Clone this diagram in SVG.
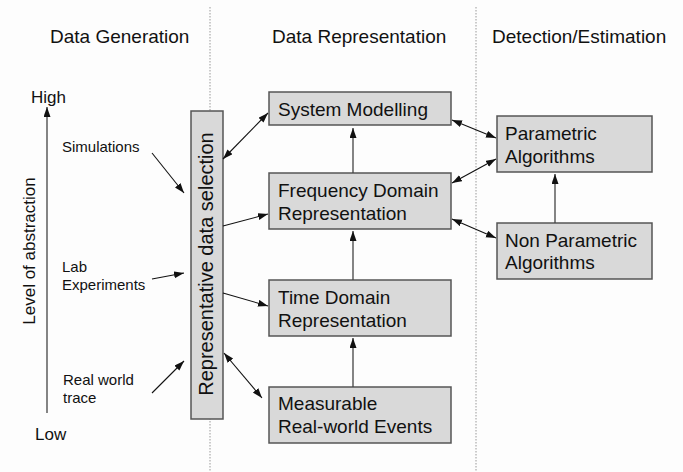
<svg xmlns="http://www.w3.org/2000/svg" width="683" height="472" viewBox="0 0 683 472">
  <style>
    text { font-family: "Liberation Sans", Arial, sans-serif; fill: #111; }
    .title { font-size: 19px; }
    .box { fill: #d9d9d9; stroke: #555; stroke-width: 1.5; }
    .label { font-size: 19px; }
    .small { font-size: 15px; }
    .axis { font-size: 17px; }
    .divider { stroke: #999; stroke-width: 1; stroke-dasharray: 1.5 1.5; }
    .conn { stroke: #111; stroke-width: 1.1; fill: none; }
    .up { stroke: #444; stroke-width: 1.3; fill: none; }
  </style>
  <defs>
    <marker id="arrow" markerUnits="userSpaceOnUse" markerWidth="11" markerHeight="8" refX="10" refY="3.5" orient="auto-start-reverse">
      <path d="M0,0 L10,3.5 L0,7 z" fill="#111"/>
    </marker>
  </defs>

  <rect width="683" height="472" fill="#fdfdfd"/>

  <!-- column dividers -->
  <line class="divider" x1="210" y1="7" x2="210" y2="472"/>
  <line class="divider" x1="476" y1="7" x2="476" y2="472"/>

  <!-- column titles -->
  <text class="title" x="50" y="43">Data Generation</text>
  <text class="title" x="272" y="43">Data Representation</text>
  <text class="title" x="492" y="43">Detection/Estimation</text>

  <!-- abstraction axis labels -->
  <g id="axis">
    <text class="axis" x="31" y="103">High</text>
    <text class="axis" x="35" y="440">Low</text>
    <text class="axis" transform="translate(35,251) rotate(-90)" text-anchor="middle">Level of abstraction</text>
  </g>

  <!-- data sources -->
  <g id="simulations"><text class="small" x="62" y="152">Simulations</text></g>
  <g id="lab"><text class="small" x="62" y="272">Lab</text><text class="small" x="62" y="290">Experiments</text></g>
  <g id="realworld"><text class="small" x="63" y="385">Real world</text><text class="small" x="63" y="403">trace</text></g>

  <!-- selection bar -->
  <g id="selection">
    <rect class="box" x="191" y="111" width="32" height="308"/>
    <text class="label" font-size="20" transform="translate(213,264) rotate(-90)" text-anchor="middle" style="font-size:20px">Representative data selection</text>
  </g>

  <!-- representation boxes -->
  <g id="system-modelling">
    <rect class="box" x="269" y="92" width="182" height="33"/>
    <text class="label" x="278" y="116">System Modelling</text>
  </g>
  <g id="frequency-domain">
    <rect class="box" x="269" y="173" width="182" height="56"/>
    <text class="label" x="278" y="197">Frequency Domain</text>
    <text class="label" x="278" y="220">Representation</text>
  </g>
  <g id="time-domain">
    <rect class="box" x="269" y="280" width="182" height="56"/>
    <text class="label" x="278" y="304">Time Domain</text>
    <text class="label" x="278" y="327">Representation</text>
  </g>
  <g id="measurable-events">
    <rect class="box" x="269" y="387" width="182" height="56"/>
    <text class="label" x="278" y="410">Measurable</text>
    <text class="label" x="278" y="433">Real-world Events</text>
  </g>

  <!-- estimation boxes -->
  <g id="parametric">
    <rect class="box" x="497" y="116" width="155" height="56"/>
    <text class="label" x="505" y="140">Parametric</text>
    <text class="label" x="505" y="163">Algorithms</text>
  </g>
  <g id="non-parametric">
    <rect class="box" x="497" y="223" width="155" height="56"/>
    <text class="label" x="505" y="247">Non Parametric</text>
    <text class="label" x="505" y="269">Algorithms</text>
  </g>

  <!-- connectors -->
  <g id="connectors">
    <line class="up" x1="47" y1="413" x2="47" y2="107" marker-end="url(#arrow)"/>
    <line class="conn" x1="152" y1="153" x2="184" y2="193" marker-end="url(#arrow)"/>
    <line class="conn" x1="152" y1="279" x2="184" y2="273" marker-end="url(#arrow)"/>
    <line class="conn" x1="152" y1="393" x2="184" y2="361" marker-end="url(#arrow)"/>
    <line class="conn" x1="223" y1="159" x2="268" y2="113" marker-start="url(#arrow)" marker-end="url(#arrow)"/>
    <line class="conn" x1="223" y1="226" x2="268" y2="214" marker-end="url(#arrow)"/>
    <line class="conn" x1="223" y1="293" x2="268" y2="306" marker-end="url(#arrow)"/>
    <line class="conn" x1="224" y1="353" x2="262" y2="398" marker-start="url(#arrow)" marker-end="url(#arrow)"/>
    <line class="up" x1="353" y1="387" x2="353" y2="338" marker-end="url(#arrow)"/>
    <line class="up" x1="353" y1="280" x2="353" y2="231" marker-end="url(#arrow)"/>
    <line class="up" x1="353" y1="173" x2="353" y2="128" marker-end="url(#arrow)"/>
    <line class="conn" x1="452" y1="120" x2="496" y2="138" marker-start="url(#arrow)" marker-end="url(#arrow)"/>
    <line class="conn" x1="452" y1="183" x2="496" y2="159" marker-start="url(#arrow)" marker-end="url(#arrow)"/>
    <line class="conn" x1="452" y1="219" x2="496" y2="238" marker-start="url(#arrow)" marker-end="url(#arrow)"/>
    <line class="up" x1="555" y1="223" x2="555" y2="174" marker-end="url(#arrow)"/>
  </g>
</svg>
